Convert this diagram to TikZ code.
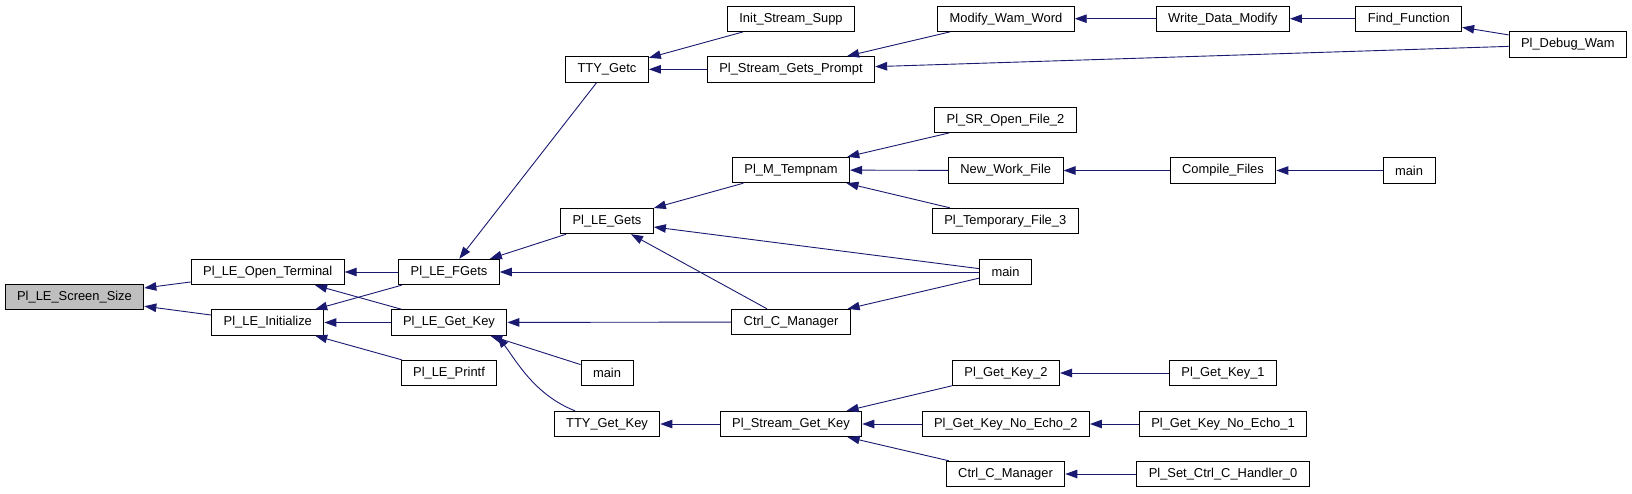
\documentclass[tikz,border=0pt]{standalone}
\usepackage{fontspec}
\setmainfont{Liberation Sans}
\usetikzlibrary{arrows.meta}
\definecolor{cEdge}{HTML}{191970}
\definecolor{cSel}{HTML}{BFBFBF}

\begin{document}
\begin{tikzpicture}[
  x=1pt, y=-1pt,
  fn/.style={rectangle, draw=black, line width=0.9pt, fill=white, minimum height=25.5pt, inner xsep=12pt, inner ysep=0pt, font=\fontsize{12.9}{15}\selectfont},
  call/.style={draw=cEdge, line width=0.9pt},
  <-, >={Triangle[length=12pt, width=8.5pt]}
]
\useasboundingbox (0,0) rectangle (1632,493);

\node[fn, fill=cSel] (scr) at (74.5,297) {Pl\_LE\_Screen\_Size};
\node[fn] (open) at (267.7,272) {Pl\_LE\_Open\_Terminal};
\node[fn] (ini) at (267.8,322.5) {Pl\_LE\_Initialize};
\node[fn] (fgets) at (449,272) {Pl\_LE\_FGets};
\node[fn] (getkey) at (449,322.5) {Pl\_LE\_Get\_Key};
\node[fn] (printf) at (449,373) {Pl\_LE\_Printf};
\node[fn] (getc) at (607,69.3) {TTY\_Getc};
\node[fn] (gets) at (607,221) {Pl\_LE\_Gets};
\node[fn] (mainA) at (607,373) {main};
\node[fn] (ttykey) at (607,424) {TTY\_Get\_Key};
\node[fn] (supp) at (791,18.7) {Init\_Stream\_Supp};
\node[fn] (prompt) at (791,69.3) {Pl\_Stream\_Gets\_Prompt};
\node[fn] (tmpnam) at (791,170) {Pl\_M\_Tempnam};
\node[fn] (ctrlA) at (791,322) {Ctrl\_C\_Manager};
\node[fn] (skey) at (791,424) {Pl\_Stream\_Get\_Key};
\node[fn] (modify) at (1006,18.7) {Modify\_Wam\_Word};
\node[fn] (sropen) at (1005.5,119.7) {Pl\_SR\_Open\_File\_2};
\node[fn] (newwork) at (1005.7,170.5) {New\_Work\_File};
\node[fn] (tmpfile) at (1005.3,221) {Pl\_Temporary\_File\_3};
\node[fn] (mainB) at (1005.5,272) {main};
\node[fn] (key2) at (1006,373) {Pl\_Get\_Key\_2};
\node[fn] (echo2) at (1005.8,424) {Pl\_Get\_Key\_No\_Echo\_2};
\node[fn] (ctrlB) at (1005.5,474) {Ctrl\_C\_Manager};
\node[fn] (write) at (1222.8,18.7) {Write\_Data\_Modify};
\node[fn] (compile) at (1223,170.5) {Compile\_Files};
\node[fn] (key1) at (1223,373) {Pl\_Get\_Key\_1};
\node[fn] (echo1) at (1223,424) {Pl\_Get\_Key\_No\_Echo\_1};
\node[fn] (handler) at (1223,474) {Pl\_Set\_Ctrl\_C\_Handler\_0};
\node[fn] (find) at (1408.8,18.7) {Find\_Function};
\node[fn] (mainC) at (1409,170.5) {main};
\node[fn] (debug) at (1567.8,44.5) {Pl\_Debug\_Wam};

\draw[call] (scr) -- (open);
\draw[call] (scr) -- (ini);
\draw[call] (open) -- (fgets);
\draw[call] (open) -- (getkey);
\draw[call] (ini) -- (fgets);
\draw[call] (ini) -- (getkey);
\draw[call] (ini) -- (printf);
\draw[call] (fgets) -- (getc);
\draw[call] (fgets) -- (gets);
\draw[call] (fgets) -- (mainB);
\draw[call] (getc) -- (supp);
\draw[call] (getc) -- (prompt);
\draw[call] (prompt) -- (modify);
\draw[call] (prompt) -- (debug);
\draw[call] (modify) -- (write);
\draw[call] (write) -- (find);
\draw[call] (find) -- (debug);
\draw[call] (gets) -- (tmpnam);
\draw[call] (gets) -- (mainB);
\draw[call] (gets) -- (ctrlA);
\draw[call] (tmpnam) -- (sropen);
\draw[call] (tmpnam) -- (newwork);
\draw[call] (tmpnam) -- (tmpfile);
\draw[call] (newwork) -- (compile);
\draw[call] (compile) -- (mainC);
\draw[call] (ctrlA) -- (mainB);
\draw[call] (getkey) -- (ctrlA);
\draw[call] (getkey) -- (mainA);
\draw[call] ([xshift=-10pt]getkey.south east) .. controls (517,362) and (535,395) .. ([xshift=-32pt]ttykey.north);
\draw[call] (ttykey) -- (skey);
\draw[call] (skey) -- (key2);
\draw[call] (skey) -- (echo2);
\draw[call] (skey) -- (ctrlB);
\draw[call] (key2) -- (key1);
\draw[call] (echo2) -- (echo1);
\draw[call] (ctrlB) -- (handler);
\end{tikzpicture}
\end{document}
